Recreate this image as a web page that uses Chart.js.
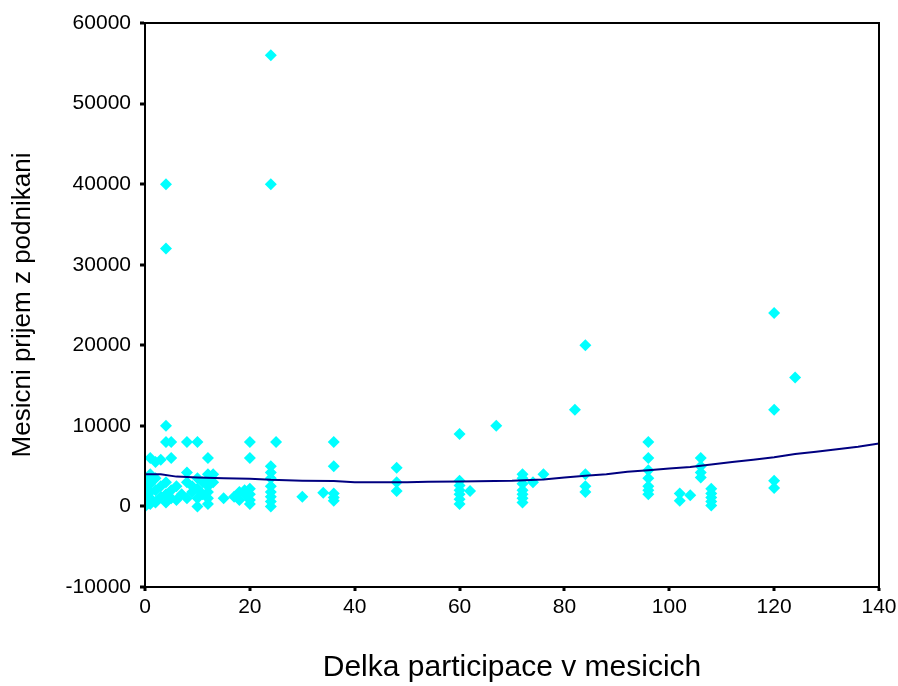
<!DOCTYPE html>
<html>
<head>
<meta charset="utf-8">
<script src="https://cdn.jsdelivr.net/npm/chart.js@4"></script>
<style>
  html, body { margin: 0; padding: 0; background: #fff; }
  #wrap { width: 898px; height: 686px; }
</style>
</head>
<body>
<div id="wrap"><canvas id="myChart" width="898" height="686"></canvas></div>
<script>
// Delka participace (mesice) -> namerene prijmy v danem mesici
const months = [0, 1, 2, 3, 4, 5, 6, 7, 8, 9, 10, 11, 12, 13, 15, 17, 18, 19, 20, 24, 25, 30, 34, 36,
  48, 60, 62, 67, 72, 74, 76, 82, 84, 96, 102, 104, 106, 108, 120, 124];
const incomes = [
  [0, 800, 1500, 2200, 3000, 3600],
  [6000, 4000, 2800, 1800, 1000, 300],
  [5500, 3500, 2000, 500],
  [5800, 2500, 1200],
  [40000, 32000, 10000, 8000, 3000, 1500, 500],
  [8000, 6000, 2000, 1000],
  [2500, 800],
  [1500],
  [8000, 4200, 3000, 1000],
  [2500, 1800],
  [8000, 3500, 2200, 1000, 0],
  [3000, 1500],
  [6000, 4000, 3200, 2500, 1800, 1000, 300],
  [4000, 3000],
  [1000],
  [1200],
  [1800, 800],
  [1500, 2000],
  [8000, 6000, 2200, 1500, 800, 300],
  [56000, 40000, 5000, 4200, 3500, 2500, 1800, 1200, 600, 0],
  [8000],
  [1200],
  [1700],
  [8000, 5000, 1600, 1100, 700],
  [4800, 3000, 1900],
  [9000, 3200, 2600, 2000, 1500, 900, 300],
  [1900],
  [10000],
  [4000, 3500, 2800, 2000, 1500, 1000, 500],
  [3000],
  [4000],
  [12000],
  [20000, 4000, 2500, 1800],
  [8000, 6000, 4500, 3500, 2500, 2000, 1500],
  [1600, 700],
  [1400],
  [6000, 5000, 4200, 3600],
  [2200, 1600, 1100, 600, 100],
  [24000, 12000, 3200, 2300],
  [16000]
];

// prolozena krivka
const fitX = [0, 3, 6, 10, 15, 20, 24, 30, 36, 40, 50, 54, 60, 70, 76, 80, 84, 88, 92, 96, 100,
  104, 108, 112, 116, 120, 124, 128, 132, 136, 140];
const fitY = [4000, 4000, 3700, 3600, 3500, 3450, 3300, 3200, 3150, 3000, 3000, 3050, 3100, 3200,
  3350, 3600, 3800, 4000, 4300, 4500, 4700, 4900, 5200, 5500, 5800, 6100, 6500, 6800, 7100, 7400, 7800];

const yTicks = [-10000, 0, 10000, 20000, 30000, 40000, 50000, 60000];

const points = [];
months.forEach((m, i) => {
  incomes[i].forEach(v => points.push({ x: m, y: v }));
});
const fitLine = fitX.map((x, i) => ({ x: x, y: fitY[i] }));

// ramecek kolem plochy grafu
const frame = {
  id: 'frame',
  afterDraw(chart) {
    const a = chart.chartArea;
    const c = chart.ctx;
    c.save();
    c.strokeStyle = '#000';
    c.lineWidth = 2;
    c.strokeRect(a.left, a.top, a.right - a.left, a.bottom - a.top);
    c.restore();
  }
};

const tickFont = { family: 'Liberation Sans', size: 21 };

const ctx = document.getElementById('myChart');
new Chart(ctx, {
  type: 'scatter',
  data: {
    datasets: [
      {
        label: 'fit',
        type: 'line',
        data: fitLine,
        borderColor: '#000080',
        borderWidth: 2,
        pointRadius: 0,
        tension: 0,
        fill: false
      },
      {
        label: 'prijem',
        data: points,
        pointStyle: 'rectRot',
        pointRadius: 6,
        pointHoverRadius: 6,
        backgroundColor: '#00ffff',
        borderColor: '#00ffff',
        borderWidth: 0
      }
    ]
  },
  options: {
    responsive: false,
    animation: false,
    layout: { padding: { top: 23, right: 19, left: 0, bottom: 0 } },
    plugins: {
      legend: { display: false },
      tooltip: { enabled: false }
    },
    scales: {
      x: {
        type: 'linear',
        min: 0,
        max: 140,
        ticks: { stepSize: 20, color: '#000', font: tickFont, padding: 4, callback: v => String(v) },
        grid: { drawOnChartArea: false, color: '#000', tickLength: 4, tickWidth: 3, lineWidth: 2 },
        border: { color: '#000', width: 2 },
        title: {
          display: true,
          text: 'Delka participace v mesicich',
          color: '#000',
          font: { family: 'Liberation Sans', size: 30 },
          padding: { top: 20, bottom: 0 }
        },
        afterFit: s => { s.height = 99; s.paddingLeft = 0; s.paddingRight = 0; }
      },
      y: {
        min: -10000,
        max: 60000,
        afterBuildTicks: s => { s.ticks = yTicks.map(v => ({ value: v })); },
        ticks: { color: '#000', font: tickFont, padding: 9, callback: v => String(v) },
        grid: { drawOnChartArea: false, color: '#000', tickLength: 5, tickWidth: 3, lineWidth: 2 },
        border: { color: '#000', width: 2 },
        title: {
          display: true,
          text: 'Mesicni prijem z podnikani',
          color: '#000',
          font: { family: 'Liberation Sans', size: 26 },
          padding: { top: 7, bottom: 20 }
        },
        afterFit: s => { s.width = 145; }
      }
    }
  },
  plugins: [frame]
});
</script>
</body>
</html>
